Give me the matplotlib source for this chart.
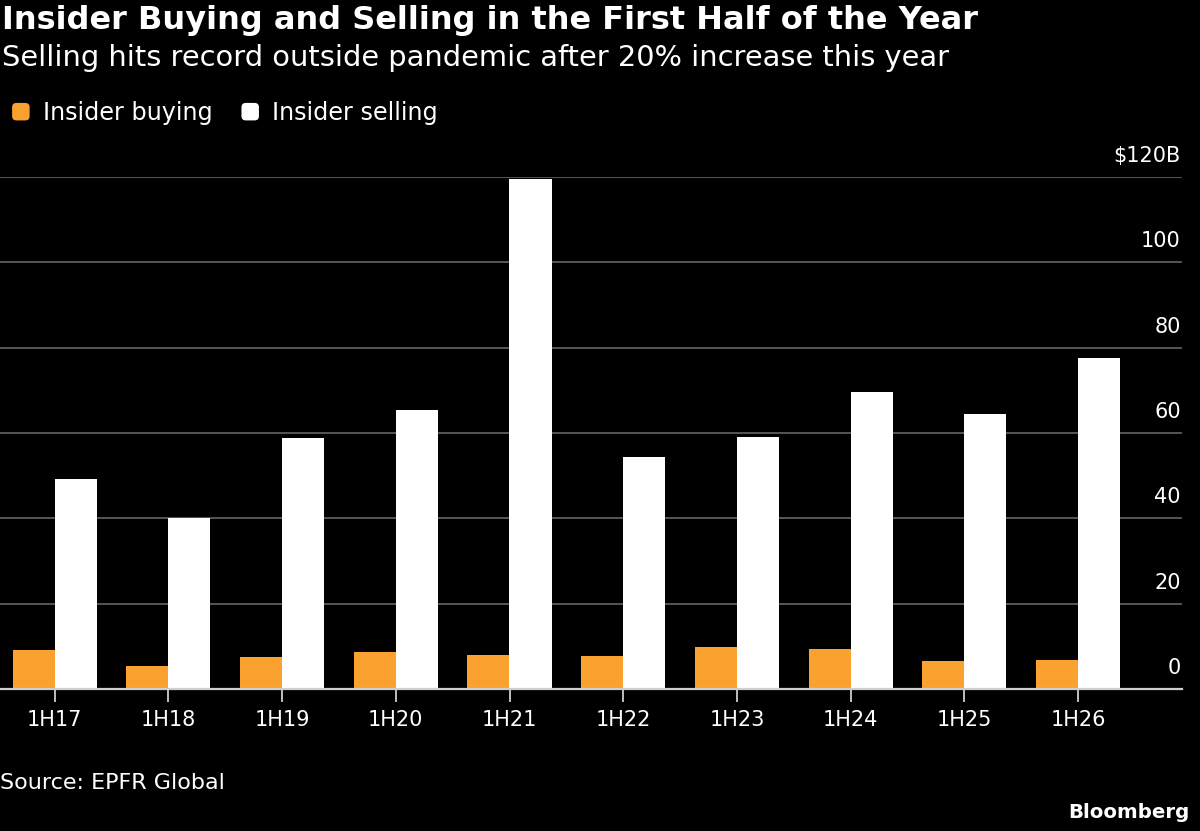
import matplotlib
matplotlib.use("Agg")
import matplotlib.pyplot as plt
from matplotlib.patches import FancyBboxPatch
from matplotlib.legend_handler import HandlerPatch
import numpy as np

categories = ["1H17", "1H18", "1H19", "1H20", "1H21", "1H22", "1H23", "1H24", "1H25", "1H26"]
buying = [9.1, 5.4, 7.5, 8.7, 8.0, 7.7, 9.8, 9.4, 6.6, 6.8]
selling = [49.2, 40.1, 58.8, 65.4, 119.5, 54.4, 59.1, 69.6, 64.4, 77.6]
yticks = [0, 20, 40, 60, 80, 100, 120]
ytick_labels = ["0", "20", "40", "60", "80", "100", "$120B"]

BG = "black"
ORANGE = "#FBA12F"
WHITE = "white"
plt.rcParams["font.family"] = ["DejaVu Sans"]

W, H = 1200, 831
fig = plt.figure(figsize=(W / 100, H / 100), dpi=100, facecolor=BG)
ax = fig.add_axes([0, 1 - 689 / H, 1182 / W, (689 - 177) / H], facecolor=BG)

x = np.arange(len(categories))
bw = 0.37
b1 = ax.bar(x - bw / 2, buying, width=bw, color=ORANGE, label="Insider buying", zorder=3)
b2 = ax.bar(x + bw / 2, selling, width=bw, color=WHITE, label="Insider selling", zorder=3)

x0 = -54.7 / 113.7
x1 = (1182 - 54.7) / 113.7
ax.set_xlim(x0, x1)
ax.set_ylim(0, 120)

for v in yticks[1:]:
    ax.axhline(v, color="#5c5c5c", lw=1.3, zorder=1)
ax.axhline(0, color="#cfcfcf", lw=1.6, zorder=4, clip_on=False)

for v, lab in zip(yticks, ytick_labels):
    ax.text(x1 - 0.01, v + 2.6, lab, ha="right", va="bottom", color=WHITE,
            fontsize=15, zorder=5)

ax.set_yticks([])
ax.set_xticks(x)
ax.set_xticklabels(categories, color=WHITE, fontsize=15)
ax.tick_params(axis="x", length=9, width=1.3, color="#cfcfcf", pad=6)
for s in ax.spines.values():
    s.set_visible(False)

fig.text(0.002, 1 - 20 / H, "Insider Buying and Selling in the First Half of the Year",
         color=WHITE, fontsize=23, fontweight="bold", ha="left", va="center")
fig.text(0.002, 1 - 58 / H, "Selling hits record outside pandemic after 20% increase this year",
         color=WHITE, fontsize=20.8, ha="left", va="center")


class RoundHandler(HandlerPatch):
    def create_artists(self, legend, orig_handle, xdescent, ydescent, width, height,
                       fontsize, trans):
        s = min(width, height)
        p = FancyBboxPatch((-xdescent + (width - s) / 2, -ydescent + (height - s) / 2), s, s,
                           boxstyle="round,pad=0,rounding_size=%f" % (s * 0.25),
                           facecolor=orig_handle.get_facecolor(), edgecolor="none",
                           transform=trans)
        return [p]


leg = fig.legend(handles=[b1.patches[0], b2.patches[0]], labels=["Insider buying", "Insider selling"],
                 loc="center left", bbox_to_anchor=(-0.008, 1 - 113 / H),
                 ncol=2, frameon=False, fontsize=17.2, handlelength=0.75, handleheight=0.75,
                 handletextpad=0.55, columnspacing=1.2, labelcolor=WHITE,
                 handler_map={matplotlib.patches.Rectangle: RoundHandler()})

fig.text(0.0, 1 - 783 / H, "Source: EPFR Global", color=WHITE, fontsize=16,
         ha="left", va="center")
fig.text(1190 / W, 1 - 812 / H, "Bloomberg", color=WHITE, fontsize=14.2, fontweight="bold",
         ha="right", va="center")

fig.savefig("out.png", dpi=100, facecolor=BG)
